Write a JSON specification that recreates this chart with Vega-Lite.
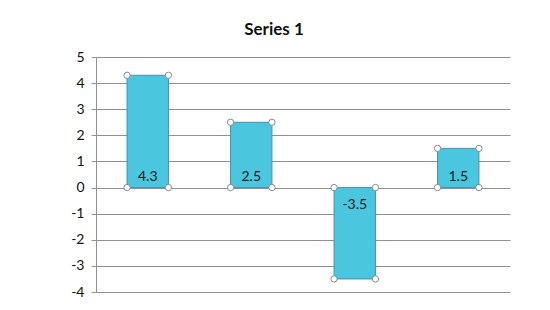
{
  "$schema": "https://vega.github.io/schema/vega-lite/v6.json",
  "autosize": {"type": "none"},
  "padding": {"left": 96, "top": 57, "right": 40, "bottom": 18},
  "width": 414,
  "height": 235,
  "background": "white",
  "title": {"text": "Series 1", "font": "Lato", "fontSize": 17, "fontWeight": "bold", "color": "#111111", "anchor": "middle", "dx": -29, "offset": 11},
  "data": {"values": [
    {"category": "Category 1", "value": 4.3},
    {"category": "Category 2", "value": 2.5},
    {"category": "Category 3", "value": -3.5},
    {"category": "Category 4", "value": 1.5}
  ]},
  "encoding": {
    "x": {"field": "category", "type": "nominal", "sort": null, "scale": {"paddingInner": 0.6, "paddingOuter": 0.3}, "axis": null}
  },
  "layer": [
    {
      "mark": {"type": "bar", "color": "#4bc6df", "stroke": "#4a8fae", "strokeWidth": 1},
      "encoding": {
        "y": {"field": "value", "type": "quantitative", "scale": {"domain": [-4, 5], "nice": false},
          "axis": {"title": null, "values": [-4, -3, -2, -1, 0, 1, 2, 3, 4, 5], "labelExpr": "toString(datum.value)", "labelOverlap": false, "grid": true, "gridColor": "#909090", "gridWidth": 1, "domain": true, "domainColor": "#909090", "tickColor": "#909090", "tickSize": 5, "labelFont": "Lato", "labelFontSize": 14, "labelColor": "#111111", "labelPadding": 7}}
      }
    },
    {
      "transform": [{"filter": "datum.value >= 0"}],
      "mark": {"type": "text", "font": "Lato", "fontSize": 14, "color": "#1a1a1a", "baseline": "bottom", "dy": -4},
      "encoding": {"y": {"datum": 0, "type": "quantitative", "axis": {"title": null, "values": [-4, -3, -2, -1, 0, 1, 2, 3, 4, 5], "labelExpr": "toString(datum.value)", "labelOverlap": false, "grid": true, "gridColor": "#909090", "gridWidth": 1, "domain": true, "domainColor": "#909090", "tickColor": "#909090", "tickSize": 5, "labelFont": "Lato", "labelFontSize": 14, "labelColor": "#111111", "labelPadding": 7}}, "text": {"field": "value", "type": "nominal"}}
    },
    {
      "transform": [{"filter": "datum.value < 0"}],
      "mark": {"type": "text", "font": "Lato", "fontSize": 14, "color": "#1a1a1a", "baseline": "top", "dy": 10},
      "encoding": {"y": {"datum": 0, "type": "quantitative", "axis": {"title": null, "values": [-4, -3, -2, -1, 0, 1, 2, 3, 4, 5], "labelExpr": "toString(datum.value)", "labelOverlap": false, "grid": true, "gridColor": "#909090", "gridWidth": 1, "domain": true, "domainColor": "#909090", "tickColor": "#909090", "tickSize": 5, "labelFont": "Lato", "labelFontSize": 14, "labelColor": "#111111", "labelPadding": 7}}, "text": {"field": "value", "type": "nominal"}}
    },
    {
      "mark": {"type": "point", "shape": "circle", "size": 40, "filled": true, "fill": "white", "stroke": "#7f8c99", "strokeWidth": 1, "opacity": 1},
      "encoding": {"x": {"field": "category", "type": "nominal", "sort": null, "bandPosition": 0}, "y": {"field": "value", "type": "quantitative", "axis": {"title": null, "values": [-4, -3, -2, -1, 0, 1, 2, 3, 4, 5], "labelExpr": "toString(datum.value)", "labelOverlap": false, "grid": true, "gridColor": "#909090", "gridWidth": 1, "domain": true, "domainColor": "#909090", "tickColor": "#909090", "tickSize": 5, "labelFont": "Lato", "labelFontSize": 14, "labelColor": "#111111", "labelPadding": 7}}}
    },
    {
      "mark": {"type": "point", "shape": "circle", "size": 40, "filled": true, "fill": "white", "stroke": "#7f8c99", "strokeWidth": 1, "opacity": 1},
      "encoding": {"x": {"field": "category", "type": "nominal", "sort": null, "bandPosition": 1}, "y": {"field": "value", "type": "quantitative", "axis": {"title": null, "values": [-4, -3, -2, -1, 0, 1, 2, 3, 4, 5], "labelExpr": "toString(datum.value)", "labelOverlap": false, "grid": true, "gridColor": "#909090", "gridWidth": 1, "domain": true, "domainColor": "#909090", "tickColor": "#909090", "tickSize": 5, "labelFont": "Lato", "labelFontSize": 14, "labelColor": "#111111", "labelPadding": 7}}}
    },
    {
      "mark": {"type": "point", "shape": "circle", "size": 40, "filled": true, "fill": "white", "stroke": "#7f8c99", "strokeWidth": 1, "opacity": 1},
      "encoding": {"x": {"field": "category", "type": "nominal", "sort": null, "bandPosition": 0}, "y": {"datum": 0, "type": "quantitative", "axis": {"title": null, "values": [-4, -3, -2, -1, 0, 1, 2, 3, 4, 5], "labelExpr": "toString(datum.value)", "labelOverlap": false, "grid": true, "gridColor": "#909090", "gridWidth": 1, "domain": true, "domainColor": "#909090", "tickColor": "#909090", "tickSize": 5, "labelFont": "Lato", "labelFontSize": 14, "labelColor": "#111111", "labelPadding": 7}}}
    },
    {
      "mark": {"type": "point", "shape": "circle", "size": 40, "filled": true, "fill": "white", "stroke": "#7f8c99", "strokeWidth": 1, "opacity": 1},
      "encoding": {"x": {"field": "category", "type": "nominal", "sort": null, "bandPosition": 1}, "y": {"datum": 0, "type": "quantitative", "axis": {"title": null, "values": [-4, -3, -2, -1, 0, 1, 2, 3, 4, 5], "labelExpr": "toString(datum.value)", "labelOverlap": false, "grid": true, "gridColor": "#909090", "gridWidth": 1, "domain": true, "domainColor": "#909090", "tickColor": "#909090", "tickSize": 5, "labelFont": "Lato", "labelFontSize": 14, "labelColor": "#111111", "labelPadding": 7}}}
    }
  ],
  "config": {"view": {"stroke": null}}
}
